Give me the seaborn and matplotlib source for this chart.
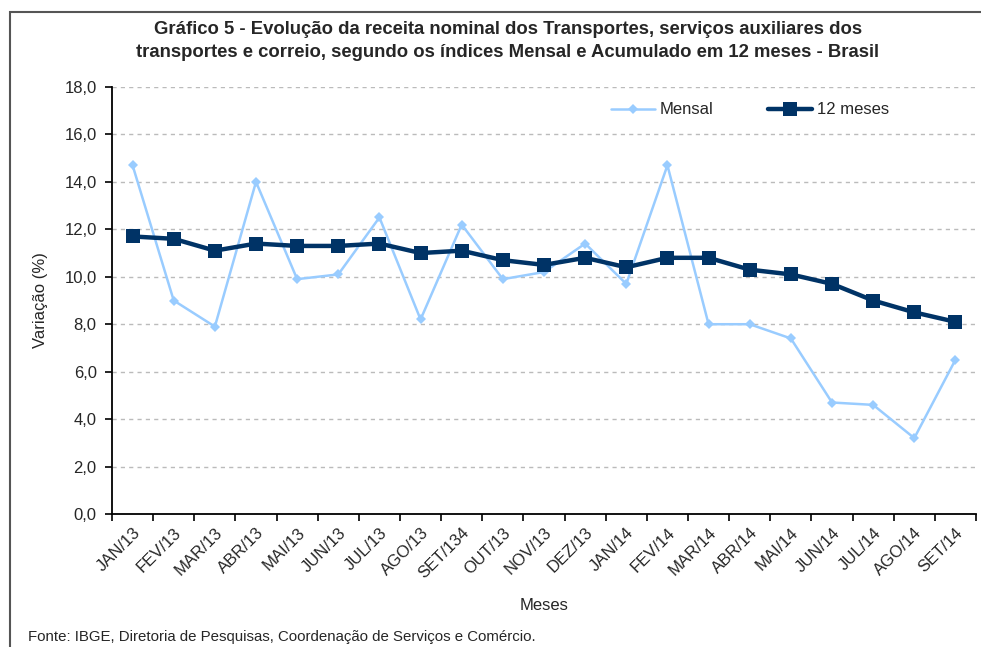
import numpy as np
import pandas as pd
import seaborn as sns
import matplotlib.pyplot as plt
from matplotlib.patches import Rectangle

# dados
meses = ["JAN/13", "FEV/13", "MAR/13", "ABR/13", "MAI/13", "JUN/13", "JUL/13",
         "AGO/13", "SET/134", "OUT/13", "NOV/13", "DEZ/13", "JAN/14", "FEV/14",
         "MAR/14", "ABR/14", "MAI/14", "JUN/14", "JUL/14", "AGO/14", "SET/14"]
mensal = [14.7, 9.0, 7.9, 14.0, 9.9, 10.1, 12.5, 8.2, 12.2, 9.9, 10.2,
          11.4, 9.7, 14.7, 8.0, 8.0, 7.4, 4.7, 4.6, 3.2, 6.5]
doze_meses = [11.7, 11.6, 11.1, 11.4, 11.3, 11.3, 11.4, 11.0, 11.1, 10.7, 10.5,
              10.8, 10.4, 10.8, 10.8, 10.3, 10.1, 9.7, 9.0, 8.5, 8.1]
y_ticks = [0, 2, 4, 6, 8, 10, 12, 14, 16, 18]

df = pd.DataFrame({"pos": np.arange(len(meses)), "Mes": meses,
                   "Mensal": mensal, "12 meses": doze_meses})

sns.set_style("white")
plt.rcParams["font.family"] = ["Liberation Sans", "DejaVu Sans"]

fig = plt.figure(figsize=(9.81, 6.47), dpi=100)
ax = fig.add_axes([112 / 981, 1 - 514 / 647, 864 / 981, 427 / 647])

# moldura do quadro
fig.patches.append(Rectangle((10 / 981, -0.1), 1.2, 1.1 - 12 / 647,
                             transform=fig.transFigure, fill=False,
                             edgecolor="#555555", linewidth=1.5))

sns.lineplot(data=df, x="pos", y="Mensal", ax=ax, color="#99CCFF",
             linewidth=1.8, marker="D", markersize=5, markeredgewidth=0,
             label="Mensal")
sns.lineplot(data=df, x="pos", y="12 meses", ax=ax, color="#003366",
             linewidth=3.2, marker="s", markersize=10, markeredgewidth=0,
             label="12 meses")

ax.set_xlim(-0.5, len(meses) - 0.5)
ax.set_ylim(0, 18)
ax.set_yticks(y_ticks)
ax.set_yticklabels([f"{v:.1f}".replace(".", ",") for v in y_ticks], fontsize=12)
ax.set_xticks(df["pos"])
ax.set_xticklabels(meses, rotation=45, ha="right", va="top",
                   rotation_mode="anchor", fontsize=12)
ax.set_xticks(np.arange(len(meses) + 1) - 0.5, minor=True)
ax.tick_params(axis="x", which="major", length=0, pad=8)
ax.tick_params(axis="x", which="minor", length=5, width=1.2, color="black",
               direction="out", bottom=True)
ax.tick_params(axis="y", length=5, width=1.2, color="black", direction="out",
               left=True, pad=6)

ax.grid(axis="y", linestyle=(0, (3, 3)), color="#BBBBBB", linewidth=1)
for s in ["top", "right"]:
    ax.spines[s].set_visible(False)
for s in ["left", "bottom"]:
    ax.spines[s].set_color("black")
    ax.spines[s].set_linewidth(1.3)

ax.set_xlabel("Meses", fontsize=12, labelpad=12)
ax.set_ylabel("Variação (%)", fontsize=12, labelpad=12)

ax.legend(loc="center", bbox_to_anchor=(750 / 981, 1 - 110 / 647),
          bbox_transform=fig.transFigure, ncol=2, frameon=False,
          fontsize=12, handlelength=2.6, columnspacing=3.3, handletextpad=0.3)

fig.text(508 / 981, 1 - 41 / 647,
         "Gráfico 5 - Evolução da receita nominal dos Transportes, serviços auxiliares dos\n"
         "transportes e correio, segundo os índices Mensal e Acumulado em 12 meses - Brasil",
         ha="center", va="center", fontsize=13.3, fontweight="bold", linespacing=1.5)
fig.text(28 / 981, 1 - 637 / 647,
         "Fonte: IBGE, Diretoria de Pesquisas, Coordenação de Serviços e Comércio.",
         ha="left", va="center", fontsize=10.8)

fig.savefig("out.png", dpi=100)
